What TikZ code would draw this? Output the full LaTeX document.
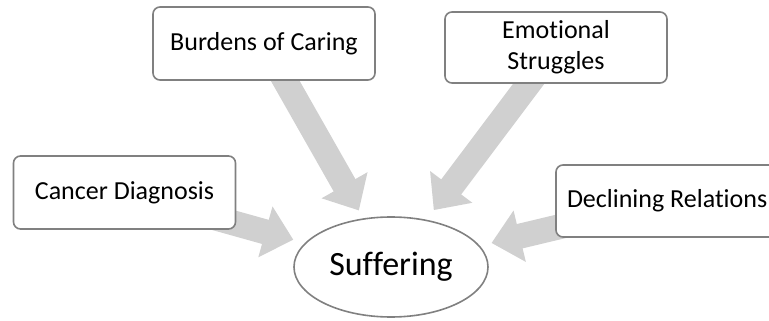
\documentclass[tikz,border=0pt]{standalone}
\usepackage{fontspec}
\setmainfont{Carlito}[Ligatures=NoCommon]
\usetikzlibrary{arrows.meta,shapes.geometric,backgrounds}
\definecolor{boxgray}{HTML}{808080}
\definecolor{arrowgray}{HTML}{D0D0D0}

\begin{document}
\begin{tikzpicture}[x=1pt,y=-1pt]

    \tikzset{
      cause/.style={
        draw=boxgray,
        line width=1.6pt,
        fill=white,
        rounded corners=7pt,
        minimum width=222pt,
        minimum height=73pt,
        inner sep=0pt,
        align=center,
        font=\fontsize{26}{31}\selectfont,
      },
      flow/.style={
        draw=arrowgray,
        line width=25pt,
        -{Triangle[width=51pt,length=29pt]},
        shorten >=12pt,
      },
    }
    \useasboundingbox (0,0) rectangle (769,321);
    \clip (0,0) rectangle (769,321);

	\node[cause] (cancer) at (124.5,192.5) {Cancer Diagnosis};
	\node[cause] (burdens) at (264,43.5) {Burdens of Caring};
	\node[cause,minimum height=71pt] (emotional) at (556,47.5) {Emotional\\Struggles};
	\node[cause,minimum height=72pt] (declining) at (667,201) {\makebox[200pt][l]{Declining Relations}};
	\node[draw=boxgray,line width=1.6pt,ellipse,minimum width=194pt,minimum height=100pt,inner sep=0pt,font=\fontsize{34}{40}\selectfont] (suffering) at (391,267) {Suffering};

	\begin{scope}[on background layer]
	\draw[flow] (cancer.center)--(suffering);
	\draw[flow,shorten >=9pt] (burdens.center)--(suffering);
	\draw[flow] (emotional.center)--(suffering);
	\draw[flow] (declining.center)--(suffering);
	\end{scope}

\end{tikzpicture}
\end{document}
